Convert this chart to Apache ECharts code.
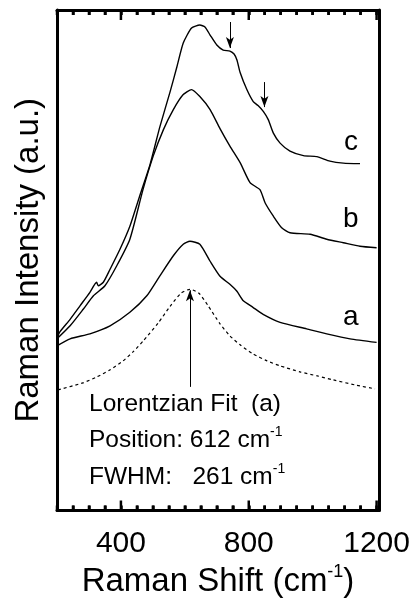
<!DOCTYPE html>
<html>
<head>
<meta charset="utf-8">
<script src="https://cdn.jsdelivr.net/npm/echarts@6/dist/echarts.min.js"></script>
<style>
  html, body { margin: 0; background: #fff; }
  #main { width: 414px; height: 603px; }
</style>
</head>
<body>
<div id="main"></div>
<script>
// Raman shift (cm-1) / intensity (a.u.)
let cShift = [200, 209, 241, 272, 303, 324, 329, 345, 366, 397, 428, 460, 491, 522, 554, 575, 595, 621, 647, 663,
  679, 700, 720, 741, 754, 763, 773, 794, 814, 829, 846, 861, 877, 898, 929, 971, 1013, 1054, 1096, 1148];
let cInt = [34.5, 35.7, 38.2, 40.9, 43.6, 45.6, 44.9, 45.6, 48.2, 52.2, 56.8, 63.1, 69.1, 76.7, 83.7, 88.6, 93.4, 96.4, 97.0, 96.6,
  95.0, 93.0, 92.0, 91.8, 91.2, 90.0, 87.5, 84.1, 81.7, 80.9, 79.7, 78.1, 75.4, 73.4, 71.8, 70.9, 70.7, 69.8, 69.4, 69.3];

let bShift = [200, 241, 282, 314, 350, 387, 428, 469, 501, 533, 564, 595, 621, 647, 679, 710, 741, 773, 804, 835,
  851, 877, 903, 929, 992, 1044, 1096, 1148, 1200];
let bInt = [34.3, 36.9, 40.2, 42.9, 44.9, 48.9, 54.2, 64.1, 70.8, 76.1, 80.1, 83.1, 84.1, 82.7, 80.1, 76.3, 72.8, 69.5, 65.5, 64.1,
  61.5, 58.8, 56.5, 55.5, 55.2, 54.2, 53.5, 52.8, 52.5];

let aShift = [200, 241, 303, 366, 428, 481, 522, 564, 595, 616, 647, 679, 710, 741, 763, 783, 813, 845, 898, 981, 1044, 1117, 1200];
let aInt = [32.9, 34.3, 35.3, 36.9, 39.6, 42.9, 46.9, 50.9, 53.2, 53.8, 53.2, 49.8, 46.8, 45.2, 43.8, 41.9, 40.6, 39.2, 37.6, 36.3, 35.3, 34.3, 33.6];

let fitShift = [203, 281, 325, 366, 407, 438, 470, 517, 554, 588, 616, 644, 672, 710, 741, 773, 813, 857, 898, 960, 1014, 1064, 1132, 1195];
let fitInt = [24.1, 25.5, 26.7, 28.1, 29.9, 31.7, 33.9, 37.5, 40.8, 43.4, 44.2, 43.4, 41.0, 37.3, 34.9, 33.1, 31.3, 29.9, 28.9, 27.7, 26.9, 26.1, 25.1, 24.3];

let tickValues = [200, 250, 300, 350, 400, 450, 500, 550, 600, 650, 700, 750, 800, 850, 900, 950, 1000, 1050, 1100, 1150, 1200];
let majorTicks = [400, 800, 1200];

let zip = (xs, ys) => xs.map((x, i) => [x, ys[i]]);

let myChart = document.getElementById("main");
let initChart = echarts.init(myChart, null, { renderer: "canvas" });

const FONT = "'Liberation Sans', Arial, sans-serif";
const Y_MAX = 100;

let frameLine = { show: true, onZero: false, lineStyle: { color: "#000", width: 3 } };
let minorTick = { show: true, inside: true, length: 5, lineStyle: { color: "#000", width: 2.5 } };

let lineSeries = (name, data, dashed) => ({
  name: name,
  type: "line",
  data: data,
  showSymbol: false,
  smooth: 0.2,
  lineStyle: { color: "#000", width: dashed ? 1.2 : 1.4, type: dashed ? [3, 3] : "solid" },
  silent: true,
  z: 3,
});

let arrowLine = (data) => ({
  silent: true,
  symbol: ["none", "arrow"],
  symbolSize: [6, 11],
  label: { show: false },
  lineStyle: { color: "#000", width: 1, type: "solid" },
  data: data,
});

let seriesC = lineSeries("c", zip(cShift, cInt), false);
// 两个肩峰的箭头
seriesC.markLine = arrowLine([
  [{ coord: [741, 97.6] }, { coord: [741, 92.4] }],
  [{ coord: [849, 85.6] }, { coord: [849, 80.6] }],
]);

let seriesFit = lineSeries("fit", zip(fitShift, fitInt), true);
seriesFit.markLine = arrowLine([[{ coord: [616, 24.7] }, { coord: [616, 44.0] }]]);

// 刻度：贴着上下边的小矩形
let tickMarks = (yVal, dir) => ({
  type: "scatter",
  silent: true,
  clip: false,
  z: 10,
  data: tickValues.map((v) => [v, yVal]),
  symbol: "rect",
  symbolSize: (d) => [2.5, majorTicks.indexOf(d[0]) >= 0 ? 10 : 5],
  symbolOffset: (d) => [0, dir * (majorTicks.indexOf(d[0]) >= 0 ? 5 : 2.5)],
  itemStyle: { color: "#000", opacity: 1 },
});

let supRich = {
  t: { fontFamily: FONT, fontSize: 24.5, color: "#000", lineHeight: 30 },
  s: { fontFamily: FONT, fontSize: 14, color: "#000", verticalAlign: "top", lineHeight: 30 },
};

let option = {
  animation: false,
  backgroundColor: "#fff",
  grid: { left: 57, right: 35, top: 10, bottom: 91 },
  xAxis: [
    {
      type: "value",
      position: "bottom",
      min: 200,
      max: 1207.5,
      interval: 50,
      axisLine: frameLine,
      axisTick: minorTick,
      axisLabel: {
        show: true,
        customValues: majorTicks,
        formatter: (v) => String(v),
        margin: 18,
        color: "#000",
        fontFamily: FONT,
        fontSize: 30,
      },
      splitLine: { show: false },
      name: "{t|Raman Shift (cm}{s|-1}{t|)}",
      nameLocation: "middle",
      nameGap: 53,
      nameTextStyle: {
        rich: {
          t: { fontFamily: FONT, fontSize: 33, color: "#000", lineHeight: 36 },
          s: { fontFamily: FONT, fontSize: 18, color: "#000", verticalAlign: "top", lineHeight: 36 },
        },
      },
    },
    {
      type: "value",
      position: "top",
      min: 200,
      max: 1207.5,
      interval: 50,
      axisLine: frameLine,
      axisTick: minorTick,
      axisLabel: { show: false },
      splitLine: { show: false },
    },
  ],
  yAxis: [
    {
      type: "value",
      position: "left",
      min: 0,
      max: Y_MAX,
      axisLine: frameLine,
      axisTick: { show: false },
      axisLabel: { show: false },
      splitLine: { show: false },
      name: "Raman Intensity (a.u.)",
      nameLocation: "middle",
      nameGap: 12,
      nameTextStyle: { fontFamily: FONT, fontSize: 33, color: "#000" },
    },
    {
      type: "value",
      position: "right",
      min: 0,
      max: Y_MAX,
      axisLine: frameLine,
      axisTick: { show: false },
      axisLabel: { show: false },
      splitLine: { show: false },
    },
  ],
  series: [
    seriesC,
    lineSeries("b", zip(bShift, bInt), false),
    lineSeries("a", zip(aShift, aInt), false),
    seriesFit,
    tickMarks(0, -1),
    tickMarks(Y_MAX, 1),
  ],
  graphic: [
    { type: "text", left: 344, top: 128, style: { text: "c", font: "28px " + FONT, fill: "#000" } },
    { type: "text", left: 343, top: 205, style: { text: "b", font: "28px " + FONT, fill: "#000" } },
    { type: "text", left: 343, top: 303, style: { text: "a", font: "28px " + FONT, fill: "#000" } },
    { type: "text", left: 89, top: 392, style: { text: "{t|Lorentzian Fit  (a)}", rich: supRich } },
    { type: "text", left: 89, top: 425, style: { text: "{t|Position: 612 cm}{s|-1}", rich: supRich } },
    { type: "text", left: 89, top: 462, style: { text: "{t|FWHM:   261 cm}{s|-1}", rich: supRich } },
  ],
};

initChart.setOption(option);
</script>
</body>
</html>
